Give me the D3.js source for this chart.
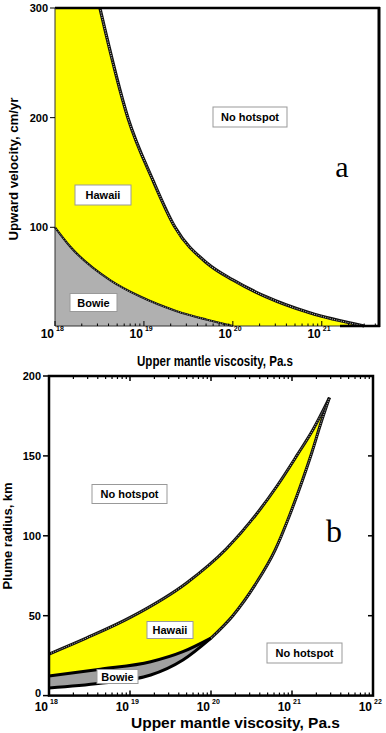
<!DOCTYPE html>
<html><head><meta charset="utf-8">
<script src="https://cdn.jsdelivr.net/npm/d3@7"></script>
<style>
html,body{margin:0;padding:0;background:#fff;}
svg{display:block;}
text{font-family:"Liberation Sans",Arial,sans-serif;font-weight:bold;fill:#000;}
</style></head>
<body>
<svg id="c" width="386" height="733"></svg>
<script>
// ---------- Data ----------
// Panel a: upward velocity (cm/yr) vs upper mantle viscosity (Pa.s)
const aHawaiiVisc = [3.2e18, 6.6e18, 1.26e19, 2.24e19, 5.1e19, 1e20, 2.4e20, 7.3e20, 3.0e21];
const aHawaiiVel  = [300, 200, 143, 100, 67.5, 52, 36.4, 22, 10];
const aBowieVisc  = [1e18, 1.48e18, 4.2e18, 9.1e18, 2.3e19, 5e19, 1e20];
const aBowieVel   = [100, 82.5, 51.6, 36.8, 23.7, 15.9, 10];
const aYTicks = [100, 200, 300];
const aXTicks = [18, 19, 20, 21];

// Panel b: plume radius (km) vs upper mantle viscosity (Pa.s)
const bHawaiiUpperVisc = [1e18, 2.92e18, 1.05e19, 5e19, 1.55e20, 6.5e20, 1.15e21, 1.82e21, 2.9e21];
const bHawaiiUpperRad  = [26, 36.1, 49.4, 70.5, 91.9, 131, 150.3, 166.5, 186.5];
const bHawaiiLowerVisc = [1e20, 1.86e20, 3.5e20, 6.2e20, 9.4e20, 1.33e21, 1.77e21, 2.24e21, 2.9e21];
const bHawaiiLowerRad  = [36, 50, 69.3, 91.2, 113.2, 134, 152.6, 169.5, 186.5];
const bBowieUpperVisc  = [1e18, 4.3e18, 1.8e19, 4.5e19, 1e20];
const bBowieUpperRad   = [12.3, 16.5, 21.2, 27.5, 36];
const bBowieLowerVisc  = [1e18, 4.3e18, 1.8e19, 4.5e19, 1e20];
const bBowieLowerRad   = [4.8, 7.7, 12.9, 22.3, 36];
const bYTicks = [0, 50, 100, 150, 200];
const bXTicks = [18, 19, 20, 21, 22];

// ---------- Drawing ----------
const svg = d3.select("#c");
const zip = (xs, ys) => xs.map((x, i) => [x, ys[i]]);

function hatched(g, d, w) {
  g.append("path").attr("d", d).attr("fill", "none").attr("stroke", "#111").attr("stroke-width", w);
  g.append("path").attr("d", d).attr("fill", "none").attr("stroke", "#c8c8c8")
    .attr("stroke-width", Math.max(0.8, w * 0.33)).attr("stroke-dasharray", "0.9,1.4");
}
function labelBox(g, cx, cy, w, h, txt, fs) {
  g.append("rect").attr("x", cx - w / 2).attr("y", cy - h / 2).attr("width", w).attr("height", h)
    .attr("fill", "#fff").attr("stroke", "#999").attr("stroke-width", 1);
  g.append("text").attr("x", cx).attr("y", cy).attr("text-anchor", "middle")
    .attr("dominant-baseline", "central").attr("font-size", fs).text(txt);
}
function minorList(lo, hi, maxV) {
  const out = [];
  for (let d = lo; d < hi; d++) for (let m = 2; m <= 9; m++) {
    const v = m * Math.pow(10, d);
    if (v < maxV) out.push(v);
  }
  return out;
}
function decadeLabel(g, x, y, e, fsMain, fsSup) {
  g.append("text").attr("x", x - 1).attr("y", y).attr("text-anchor", "end").attr("font-size", fsMain).text("10");
  g.append("text").attr("x", x + 1).attr("y", y - fsMain * 0.55).attr("font-size", fsSup)
    .attr("font-weight", "normal").text(String(e));
}

// ===== Panel a =====
{
  const g = svg.append("g");
  const x = d3.scaleLog().domain([1e18, 4.4e21]).range([55, 379]);
  const y = d3.scaleLinear().domain([10, 300]).range([326, 8]);
  const line = d3.line().x(d => x(d[0])).y(d => y(d[1])).curve(d3.curveMonotoneX);
  const haw = zip(aHawaiiVisc, aHawaiiVel);
  const bow = zip(aBowieVisc, aBowieVel);

  const yellowD = "M" + x(1e18) + "," + y(300) + line(haw).replace(/^M/, "L") +
    "L" + x(aBowieVisc[aBowieVisc.length - 1]) + "," + y(10) +
    line(bow.slice().reverse()).replace(/^M/, "L") + "Z";
  g.append("path").attr("d", yellowD).attr("fill", "#ffff00");
  const grayD = line(bow) + "L" + x(1e18) + "," + y(10) + "Z";
  g.append("path").attr("d", grayD).attr("fill", "#b0b0b0");

  hatched(g, line(haw), 3.2);
  hatched(g, line(bow), 2.2);

  g.append("line").attr("x1", x(1e18)).attr("x2", 380).attr("y1", y(300)).attr("y2", y(300)).attr("stroke", "#000").attr("stroke-width", 2.5);
  g.append("line").attr("x1", 379).attr("x2", 379).attr("y1", y(300) - 1).attr("y2", y(10) + 1).attr("stroke", "#000").attr("stroke-width", 3);
  g.append("line").attr("x1", x(1e18)).attr("x2", x(1e18)).attr("y1", y(300)).attr("y2", y(10)).attr("stroke", "#333").attr("stroke-width", 1);
  g.append("line").attr("x1", x(1e18)).attr("x2", 380).attr("y1", y(10)).attr("y2", y(10)).attr("stroke", "#333").attr("stroke-width", 1);
  g.append("line").attr("x1", 340).attr("x2", 380).attr("y1", y(10)).attr("y2", y(10)).attr("stroke", "#000").attr("stroke-width", 2.5);

  aYTicks.forEach(v => {
    g.append("line").attr("x1", x(1e18) - 5).attr("x2", x(1e18)).attr("y1", y(v)).attr("y2", y(v)).attr("stroke", "#000");
    g.append("text").attr("x", x(1e18) - 7).attr("y", y(v)).attr("dominant-baseline", "central")
      .attr("text-anchor", "end").attr("font-size", 11).text(v);
  });
  aXTicks.forEach(e => {
    const v = Math.pow(10, e);
    g.append("line").attr("x1", x(v)).attr("x2", x(v)).attr("y1", y(10)).attr("y2", y(10) - 5).attr("stroke", "#000");
    decadeLabel(g, x(v), 338, e, 12, 7);
  });
  minorList(18, 22, 4.4e21).forEach(v => {
    g.append("line").attr("x1", x(v)).attr("x2", x(v)).attr("y1", y(10)).attr("y2", y(10) - 2.5).attr("stroke", "#000");
  });

  g.append("text").attr("x", 215).attr("y", 366).attr("text-anchor", "middle").attr("font-size", 14)
    .attr("textLength", 156).attr("lengthAdjust", "spacingAndGlyphs").text("Upper mantle viscosity, Pa.s");
  g.append("text").attr("transform", "translate(14,169) rotate(-90)").attr("text-anchor", "middle")
    .attr("dominant-baseline", "central").attr("font-size", 12)
    .attr("textLength", 143).attr("lengthAdjust", "spacingAndGlyphs").text("Upward velocity, cm/yr");

  labelBox(g, 250, 117, 74, 20, "No hotspot", 11);
  labelBox(g, 103, 195, 56, 20, "Hawaii", 11);
  labelBox(g, 93.5, 302.5, 47, 18, "Bowie", 11);
  g.append("text").attr("x", 342).attr("y", 177).attr("text-anchor", "middle")
    .style("font-family", "'Liberation Serif','DejaVu Serif',serif").style("font-weight", "normal")
    .attr("font-size", 30).text("a");
}

// ===== Panel b =====
{
  const g = svg.append("g");
  const x = d3.scaleLog().domain([1e18, 1e22]).range([49, 373]);
  const y = d3.scaleLinear().domain([0, 200]).range([695.6, 376]);
  const line = d3.line().x(d => x(d[0])).y(d => y(d[1])).curve(d3.curveMonotoneX);
  const hu = zip(bHawaiiUpperVisc, bHawaiiUpperRad);
  const hl = zip(bHawaiiLowerVisc, bHawaiiLowerRad);
  const bu = zip(bBowieUpperVisc, bBowieUpperRad);
  const bl = zip(bBowieLowerVisc, bBowieLowerRad);

  const yellowD = line(hu) + line(hl.slice().reverse()).replace(/^M/, "L") +
    line(bu.slice().reverse()).replace(/^M/, "L") + "Z";
  g.append("path").attr("d", yellowD).attr("fill", "#ffff00");
  const grayD = line(bu) + line(bl.slice().reverse()).replace(/^M/, "L") + "Z";
  g.append("path").attr("d", grayD).attr("fill", "#a0a0a0");

  hatched(g, line(hu), 3);
  hatched(g, line(hl), 3);
  g.append("path").attr("d", line(bu)).attr("fill", "none").attr("stroke", "#000").attr("stroke-width", 3);
  g.append("path").attr("d", line(bl)).attr("fill", "none").attr("stroke", "#000").attr("stroke-width", 3);

  g.append("rect").attr("x", 49).attr("y", 376).attr("width", 324).attr("height", 319.6)
    .attr("fill", "none").attr("stroke", "#000").attr("stroke-width", 2.5);

  bYTicks.forEach(v => {
    g.append("line").attr("x1", 43).attr("x2", 49).attr("y1", y(v)).attr("y2", y(v)).attr("stroke", "#000").attr("stroke-width", 1.5);
    if (v > 0 && v < 200)
      g.append("line").attr("x1", 368).attr("x2", 373).attr("y1", y(v)).attr("y2", y(v)).attr("stroke", "#000").attr("stroke-width", 1.5);
    g.append("text").attr("x", 41).attr("y", y(v) + (v === 0 ? -3 : 0)).attr("dominant-baseline", "central")
      .attr("text-anchor", "end").attr("font-size", 11).text(v);
  });
  bXTicks.forEach(e => {
    const v = Math.pow(10, e);
    if (e > 18 && e < 22) {
      g.append("line").attr("x1", x(v)).attr("x2", x(v)).attr("y1", y(0)).attr("y2", y(0) - 5).attr("stroke", "#000").attr("stroke-width", 1.5);
      g.append("line").attr("x1", x(v)).attr("x2", x(v)).attr("y1", y(200)).attr("y2", y(200) + 5).attr("stroke", "#000").attr("stroke-width", 1.5);
    }
    decadeLabel(g, x(v), 711, e, 12, 7);
  });
  minorList(18, 22, 1e22).forEach(v => {
    g.append("line").attr("x1", x(v)).attr("x2", x(v)).attr("y1", y(0)).attr("y2", y(0) - 3).attr("stroke", "#000").attr("stroke-width", 1.2);
    g.append("line").attr("x1", x(v)).attr("x2", x(v)).attr("y1", y(200)).attr("y2", y(200) + 3).attr("stroke", "#000").attr("stroke-width", 1.2);
  });

  g.append("text").attr("x", 235.5).attr("y", 728).attr("text-anchor", "middle").attr("font-size", 14)
    .attr("textLength", 209).attr("lengthAdjust", "spacingAndGlyphs").text("Upper mantle viscosity, Pa.s");
  g.append("text").attr("transform", "translate(8,536) rotate(-90)").attr("text-anchor", "middle")
    .attr("dominant-baseline", "central").attr("font-size", 12)
    .attr("textLength", 107).attr("lengthAdjust", "spacingAndGlyphs").text("Plume radius, km");

  labelBox(g, 129.5, 494, 75, 19, "No hotspot", 11);
  labelBox(g, 170, 630, 46, 17, "Hawaii", 11);
  labelBox(g, 117.5, 676.5, 41, 14, "Bowie", 11);
  labelBox(g, 304.5, 653, 75, 20, "No hotspot", 11);
  g.append("text").attr("x", 334).attr("y", 542).attr("text-anchor", "middle")
    .style("font-family", "'Liberation Serif','DejaVu Serif',serif").style("font-weight", "normal")
    .attr("font-size", 32).text("b");
}
</script>
</body></html>
